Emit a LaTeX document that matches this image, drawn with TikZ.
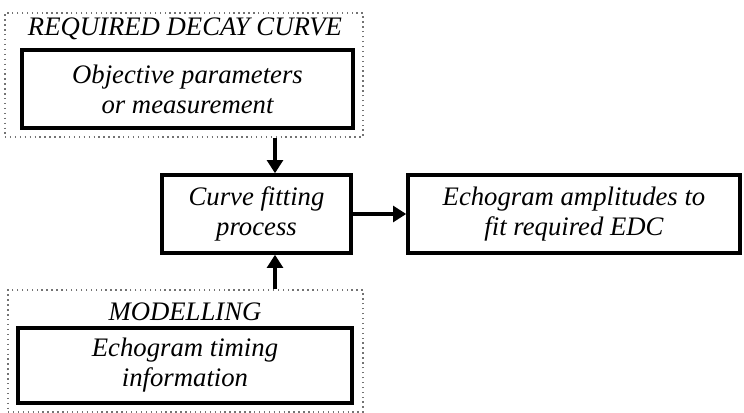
\documentclass[tikz,border=0pt]{standalone}
\usepackage{fontspec}
\setmainfont{Liberation Serif}
\usetikzlibrary{arrows.meta,positioning}

\begin{document}
\begin{tikzpicture}[
    box/.style={draw, line width=2pt, inner sep=0pt, align=center, font=\fontsize{15.2}{17.1}\selectfont\itshape},
    group/.style={draw=black!55, dotted, line width=0.8pt, inner sep=0pt},
    lbl/.style={font=\fontsize{15.2}{17.1}\selectfont\itshape},
    arr/.style={-{Triangle[length=7.5pt,width=9pt]}, line width=1.8pt}
]
\useasboundingbox (0,0) rectangle (14.88,-8.26);

% dotted groups
\node[group, minimum width=7.16cm, minimum height=2.48cm] (req) at (3.68,-1.50) {};
\node[group, minimum width=7.10cm, minimum height=2.44cm] (model) at (3.71,-7.02) {};
\node[lbl] (reqlabel) at (3.70,-0.58) {REQUIRED DECAY CURVE};
\node[lbl] (modellabel) at (3.70,-6.24) {MODELLING};

% boxes
\node[box, minimum width=6.62cm, minimum height=1.56cm] (objective) at (3.75,-1.78) {Objective parameters\\or measurement};
\node[box, minimum width=6.68cm, minimum height=1.50cm] (timing) at (3.70,-7.31) {Echogram timing\\information};
\node[box, minimum width=3.78cm, minimum height=1.56cm] (fitting) at (5.13,-4.28) {Curve fitting\\process};
\node[box, minimum width=6.64cm, minimum height=1.56cm] (amplitudes) at (11.48,-4.28) {Echogram amplitudes to\\fit required EDC};

\coordinate (ax) at (5.50,0);
\draw[arr] (req.south -| ax) -- (fitting.north -| ax);
\draw[arr] (model.north -| ax) -- (fitting.south -| ax);
\draw[arr] (fitting) -- (amplitudes);
\end{tikzpicture}
\end{document}
